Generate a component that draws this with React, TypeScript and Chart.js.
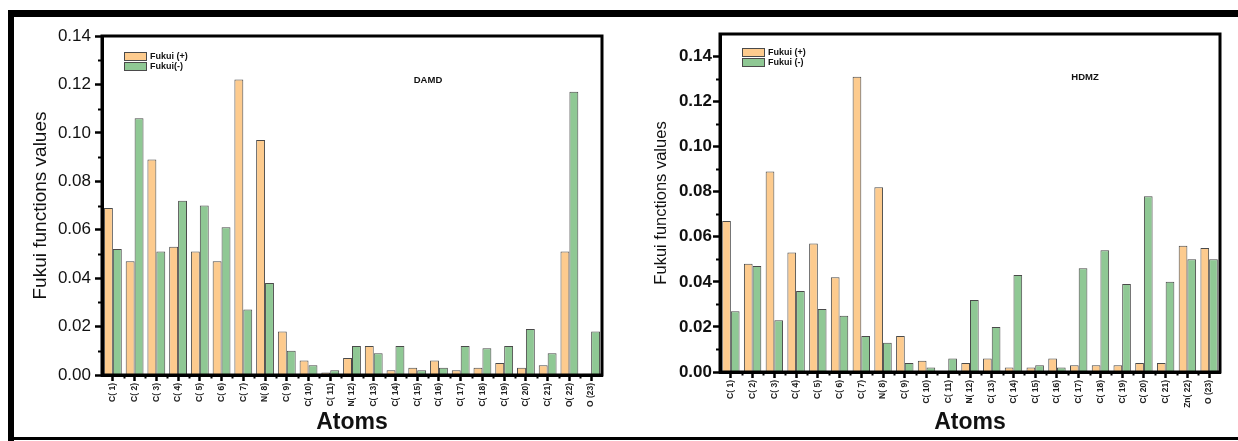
import React, { useEffect, useRef } from 'react';
import { Chart, registerables } from 'chart.js';

Chart.register(...registerables);

const damdLabels = ['C( 1)', 'C( 2)', 'C( 3)', 'C( 4)', 'C( 5)', 'C( 6)', 'C( 7)', 'N( 8)', 'C( 9)', 'C( 10)', 'C( 11)', 'N( 12)', 'C( 13)', 'C( 14)', 'C( 15)', 'C( 16)', 'C( 17)', 'C( 18)', 'C( 19)', 'C( 20)', 'C( 21)', 'O( 22)', 'O (23)'];
const damdPlus = [0.069, 0.047, 0.089, 0.053, 0.051, 0.047, 0.122, 0.097, 0.018, 0.006, 0.001, 0.007, 0.012, 0.002, 0.003, 0.006, 0.002, 0.003, 0.005, 0.003, 0.004, 0.051, 0.0005];
const damdMinus = [0.052, 0.106, 0.051, 0.072, 0.070, 0.061, 0.027, 0.038, 0.010, 0.004, 0.002, 0.012, 0.009, 0.012, 0.002, 0.003, 0.012, 0.011, 0.012, 0.019, 0.009, 0.117, 0.018];

const hdmzLabels = ['C( 1)', 'C( 2)', 'C( 3)', 'C( 4)', 'C( 5)', 'C( 6)', 'C( 7)', 'N( 8)', 'C( 9)', 'C( 10)', 'C( 11)', 'N( 12)', 'C( 13)', 'C( 14)', 'C( 15)', 'C( 16)', 'C( 17)', 'C( 18)', 'C( 19)', 'C( 20)', 'C( 21)', 'Zn( 22)', 'O (23)'];
const hdmzPlus = [0.067, 0.048, 0.089, 0.053, 0.057, 0.042, 0.131, 0.082, 0.016, 0.005, 0.0003, 0.004, 0.006, 0.002, 0.002, 0.006, 0.003, 0.003, 0.003, 0.004, 0.004, 0.056, 0.055];
const hdmzMinus = [0.027, 0.047, 0.023, 0.036, 0.028, 0.025, 0.016, 0.013, 0.004, 0.002, 0.006, 0.032, 0.020, 0.043, 0.003, 0.002, 0.046, 0.054, 0.039, 0.078, 0.040, 0.050, 0.050];

const ORANGE = '#FDCB8E';
const GREEN = '#8FC894';
const EDGE = '#4a4a4a';
const FONT = "Arial, 'Liberation Sans', Helvetica, sans-serif";

const decoPlugin = {
  id: 'deco',
  afterDraw(chart: any, _args: any, opts: any) {
    const { ctx, chartArea: a } = chart;
    const y = chart.scales.y;
    const x = chart.scales.x;
    ctx.save();
    ctx.strokeStyle = '#000';
    ctx.lineWidth = 2;
    // minor y ticks
    for (let k = 1; k * 0.01 < y.max; k += 2) {
      const p = Math.round(y.getPixelForValue(k * 0.01)) + 0.5;
      ctx.beginPath();
      ctx.moveTo(a.left - 4, p);
      ctx.lineTo(a.left, p);
      ctx.stroke();
    }
    // minor x ticks at category boundaries
    const n = chart.data.labels.length;
    const w = (a.right - a.left) / n;
    for (let i = 1; i < n; i++) {
      const p = Math.round(a.left + i * w) + 0.5;
      ctx.beginPath();
      ctx.moveTo(p, a.bottom);
      ctx.lineTo(p, a.bottom + 3.5);
      ctx.stroke();
    }
    // frame
    ctx.lineWidth = 3;
    ctx.strokeRect(a.left, a.top, a.right - a.left, a.bottom - a.top);

    // legend
    const lx = a.left + opts.legendDx;
    const ly = a.top + opts.legendDy;
    const items = opts.items as { text: string; color: string }[];
    items.forEach((it, i) => {
      const by = ly + i * 10;
      ctx.fillStyle = it.color;
      ctx.fillRect(lx, by, 22, 8);
      ctx.lineWidth = 1;
      ctx.strokeStyle = EDGE;
      ctx.strokeRect(lx + 0.5, by + 0.5, 22, 8);
      ctx.fillStyle = '#111';
      ctx.font = `bold 9px ${FONT}`;
      ctx.textBaseline = 'middle';
      ctx.textAlign = 'left';
      ctx.fillText(it.text, lx + 26, by + 4.5);
    });
    // name
    ctx.font = `bold 9.5px ${FONT}`;
    ctx.fillStyle = '#111';
    ctx.textAlign = 'center';
    ctx.textBaseline = 'middle';
    ctx.fillText(opts.name, a.left + (a.right - a.left) * opts.nameFx, a.top + opts.nameDy);
    ctx.restore();
  },
};

type Cfg = {
  labels: string[];
  plus: number[];
  minus: number[];
  max: number;
  yWidth: number;
  xHeight: number;
  padRight: number;
  padTop: number;
  tickFont: any;
  tickPad: number;
  yTitleSize: number;
  yTitlePad: number;
  catPct: number;
  minusLabel: string;
  name: string;
  nameFx: number;
  nameDy: number;
  legendDx: number;
  legendDy: number;
};

function FukuiChart({ cfg, left, width }: { cfg: Cfg; left: number; width: number }) {
  const ref = useRef<HTMLCanvasElement>(null);
  useEffect(() => {
    const chart = new Chart(ref.current as HTMLCanvasElement, {
      type: 'bar',
      data: {
        labels: cfg.labels,
        datasets: [
          { label: 'Fukui (+)', data: cfg.plus, backgroundColor: ORANGE, borderColor: EDGE, borderWidth: 1, barPercentage: 1, categoryPercentage: cfg.catPct },
          { label: cfg.minusLabel, data: cfg.minus, backgroundColor: GREEN, borderColor: EDGE, borderWidth: 1, barPercentage: 1, categoryPercentage: cfg.catPct },
        ],
      },
      options: {
        responsive: false,
        animation: false,
        devicePixelRatio: 1,
        layout: { padding: { left: 0, right: cfg.padRight, top: cfg.padTop, bottom: 0 } },
        plugins: {
          legend: { display: false },
          tooltip: { enabled: false },
          deco: {
            items: [
              { text: 'Fukui (+)', color: ORANGE },
              { text: cfg.minusLabel, color: GREEN },
            ],
            name: cfg.name,
            nameFx: cfg.nameFx,
            nameDy: cfg.nameDy,
            legendDx: cfg.legendDx,
            legendDy: cfg.legendDy,
          },
        } as any,
        scales: {
          x: {
            afterFit: (s: any) => { s.height = cfg.xHeight; },
            grid: { offset: false, drawOnChartArea: false, drawTicks: true, tickLength: 6, tickWidth: 2.5, tickColor: '#000' },
            border: { display: true, color: '#000', width: 3 },
            ticks: { autoSkip: false, maxRotation: 90, minRotation: 90, padding: 2, color: '#222', font: { family: FONT, size: 8.5, weight: 'bold' } },
            title: { display: true, text: 'Atoms', color: '#111', font: { family: FONT, size: 23, weight: 'bold' }, padding: { top: 0, bottom: 0 } },
          },
          y: {
            min: 0,
            max: cfg.max,
            afterFit: (s: any) => { s.width = cfg.yWidth; },
            grid: { drawOnChartArea: false, drawTicks: true, tickLength: 7, tickWidth: 2.5, tickColor: '#000' },
            border: { display: true, color: '#000', width: 3 },
            ticks: {
              stepSize: 0.02,
              includeBounds: false,
              padding: cfg.tickPad,
              color: '#111',
              font: cfg.tickFont,
              callback: (v: any) => Number(v).toFixed(2),
            },
            title: { display: true, text: 'Fukui functions values', color: '#111', font: { family: FONT, size: cfg.yTitleSize }, padding: { top: cfg.yTitlePad, bottom: 0 } },
          },
        },
      },
      plugins: [decoPlugin],
    });
    return () => chart.destroy();
  }, []);
  return (
    <canvas
      ref={ref}
      width={width}
      height={418}
      style={{ position: 'absolute', left, top: 18, width, height: 418 }}
    />
  );
}

const damdCfg: Cfg = {
  labels: damdLabels,
  plus: damdPlus,
  minus: damdMinus,
  max: 0.14,
  yWidth: 86,
  xHeight: 61,
  padRight: 14,
  padTop: 18,
  tickFont: { family: FONT, size: 17 },
  tickPad: 4,
  yTitleSize: 19,
  yTitlePad: 13,
  catPct: 0.82,
  minusLabel: 'Fukui(-)',
  name: 'DAMD',
  nameFx: 0.652,
  nameDy: 44,
  legendDx: 22,
  legendDy: 16,
};

const hdmzCfg: Cfg = {
  labels: hdmzLabels,
  plus: hdmzPlus,
  minus: hdmzMinus,
  max: 0.15,
  yWidth: 92,
  xHeight: 64,
  padRight: 18,
  padTop: 16,
  tickFont: { family: FONT, size: 17, weight: 'bold' },
  tickPad: 1,
  yTitleSize: 16.5,
  yTitlePad: 24,
  catPct: 0.8,
  minusLabel: 'Fukui (-)',
  name: 'HDMZ',
  nameFx: 0.73,
  nameDy: 43,
  legendDx: 22,
  legendDy: 14,
};

export default function App() {
  useEffect(() => {
    document.body.style.margin = '0';
  }, []);
  return (
    <div style={{ position: 'fixed', left: 0, top: 0, width: 1238, height: 441, background: '#fff', overflow: 'hidden' }}>
      <div style={{ position: 'absolute', left: 8, top: 10, width: 1230, height: 7, background: '#000' }} />
      <div style={{ position: 'absolute', left: 8, top: 10, width: 6, height: 431, background: '#000' }} />
      <div style={{ position: 'absolute', left: 8, top: 437, width: 1230, height: 3, background: '#000' }} />
      <FukuiChart cfg={damdCfg} left={16} width={600} />
      <FukuiChart cfg={hdmzCfg} left={628} width={610} />
    </div>
  );
}
